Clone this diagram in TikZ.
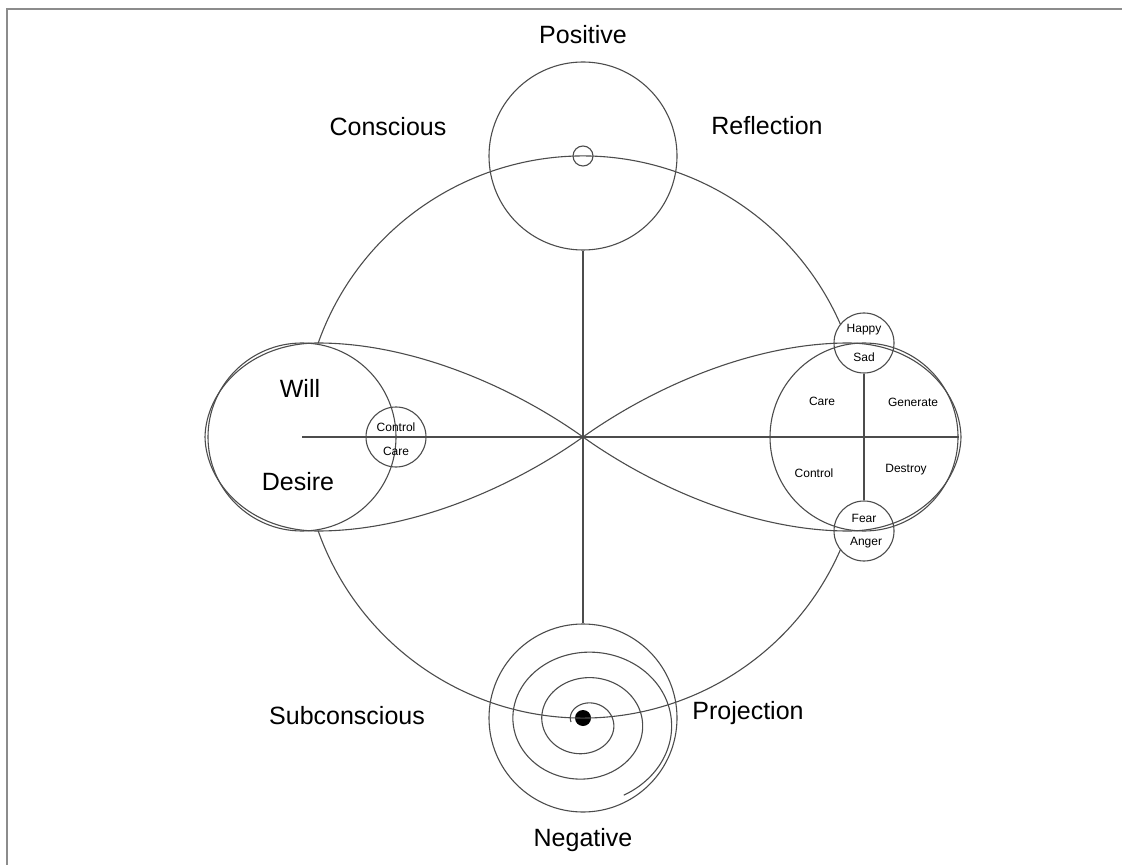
\documentclass[tikz,border=0pt]{standalone}
\usepackage{fontspec}
\setmainfont{Liberation Sans}

\begin{document}
\begin{tikzpicture}[x=0.5pt,y=-0.5pt,
  ln/.style={draw=black!70,line width=0.55pt},
  ring/.style={ln,circle,inner sep=0pt,minimum size=94pt},
  bub/.style={ln,circle,inner sep=0pt,minimum size=30pt},
  big/.style={font=\fontsize{12.5}{15}\selectfont},
  small/.style={font=\fontsize{6}{7}\selectfont}]
\useasboundingbox (0,0) rectangle (1122,865);
\draw [draw=black!45,line width=1pt] (7,865) -- (7,9) -- (1122,9);

\coordinate (o) at (583,437);
\node (pos) at (583,156) [ring] {};
\node (posdot) at (583,156) [ring,minimum size=10pt] {};
\node (neg) at (583,718) [ring] {};
\node (negdot) at (583,718) [circle,fill=black,inner sep=0pt,minimum size=8pt] {};
\node (will) at (302,437) [ring] {};
\node (mind) at (864,437) [ring] {};
\node (cc) at (396,437) [bub] {};
\node (hs) at (864,343) [bub] {};
\node (fa) at (864,531) [bub] {};

\draw [ln] (pos.south) -- (neg.north);
\draw [ln] (will.center) -- (mind.east);
\draw [ln] (hs.south) -- (fa.north);

% outer circle, broken at both sides
\draw [ln] (o) ++(199.5:281) arc[start angle=199.5,end angle=336.5,radius=281];
\draw [ln] (o) ++(23.5:281) arc[start angle=23.5,end angle=160.5,radius=281];

% figure eight
\draw [ln] (o) .. controls (510,385) and (410,343) .. (318,343)
  .. controls (250,343) and (206,390) .. (205,437)
  .. controls (206,484) and (250,531) .. (318,531)
  .. controls (410,531) and (510,489) .. (o);
\draw [ln] (o) .. controls (656,385) and (756,343) .. (848,343)
  .. controls (916,343) and (960,390) .. (961,437)
  .. controls (960,484) and (916,531) .. (848,531)
  .. controls (756,531) and (656,489) .. (o);

% spiral
\draw [ln] plot[variable=\t,domain=0:965,samples=250,smooth]
  ({585+(14+0.08056*\t)*cos(180+\t)},{722+0.88*(14+0.08056*\t)*sin(180+\t)});

\node (lpos) at (583,35) [big] {Positive};
\node (lcon) at (388,127) [big] {Conscious};
\node (lref) at (767,126) [big] {Reflection};
\node (lwill) at (300,388) [big] {Will};
\node (ldes) at (298,482) [big] {Desire};
\node (lsub) at (347,716) [big] {Subconscious};
\node (lpro) at (748,713) [big] {Projection};
\node (lneg) at (583,840) [big] {Negative};

\node (lctl) at (396,427) [small] {Control};
\node (lcar) at (396,451) [small] {Care};
\node (lhap) at (864,330) [small] {Happy};
\node (lsad) at (864,357) [small] {Sad};
\node (lfea) at (864,518) [small] {Fear};
\node (lang) at (866,543) [small] {Anger};
\node (lcare) at (822,401) [small] {Care};
\node (lgen) at (913,402) [small] {Generate};
\node (lcon2) at (814,473) [small] {Control};
\node (ldst) at (906,470) [small] {Destroy};
\end{tikzpicture}
\end{document}
